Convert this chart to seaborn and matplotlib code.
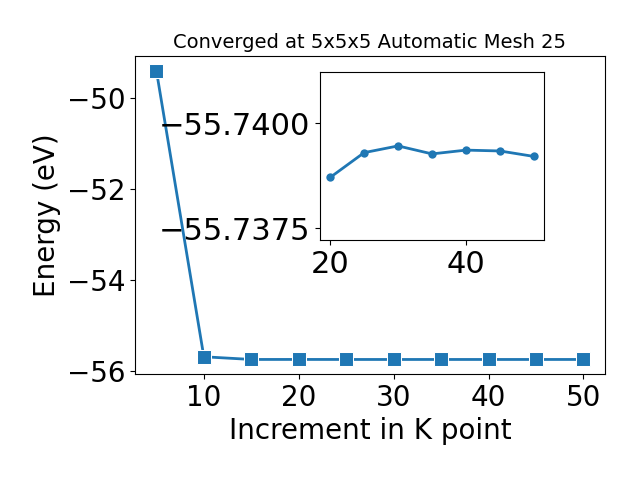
import numpy as np
import pandas as pd
import matplotlib
matplotlib.use("Agg")
import matplotlib.pyplot as plt
import seaborn as sns

# k-point convergence data
kpoints = [5, 10, 15, 20, 25, 30, 35, 40, 45, 50]
energy = [-49.40, -55.68, -55.739, -55.7387, -55.7393, -55.7395, -55.7393, -55.7394, -55.7393, -55.7392]

# zoomed region (k >= 20)
kpoints_zoom = [20, 25, 30, 35, 40, 45, 50]
energy_zoom = [-55.73871, -55.73930, -55.73946, -55.73927, -55.73936, -55.73934, -55.73921]

df = pd.DataFrame({'k': kpoints, 'E': energy})
dz = pd.DataFrame({'k': kpoints_zoom, 'E': energy_zoom})

fig = plt.figure(figsize=(6.4, 4.8), dpi=100)
ax = fig.add_axes([0.211, 0.221, 0.734, 0.662])
sns.lineplot(data=df, x='k', y='E', marker='s', markersize=10, linewidth=2, ax=ax)
ax.set_xlabel('Increment in K point', fontsize=20)
ax.set_ylabel('Energy (eV)', fontsize=20)
ax.set_title('Converged at 5x5x5 Automatic Mesh 25', fontsize=14)
ax.tick_params(labelsize=20)

# inset
ax2 = fig.add_axes([0.5, 0.5, 0.35, 0.35])
sns.lineplot(data=dz, x='k', y='E', marker='o', markersize=6, linewidth=2,
             markeredgewidth=0, ax=ax2)
ax2.set_ylim(-55.73722, -55.74122)
ax2.set_yticks([-55.7375, -55.7400])
ax2.set_xlabel('')
ax2.set_ylabel('')
ax2.tick_params(labelsize=22)

fig.savefig('out.png', dpi=100)
